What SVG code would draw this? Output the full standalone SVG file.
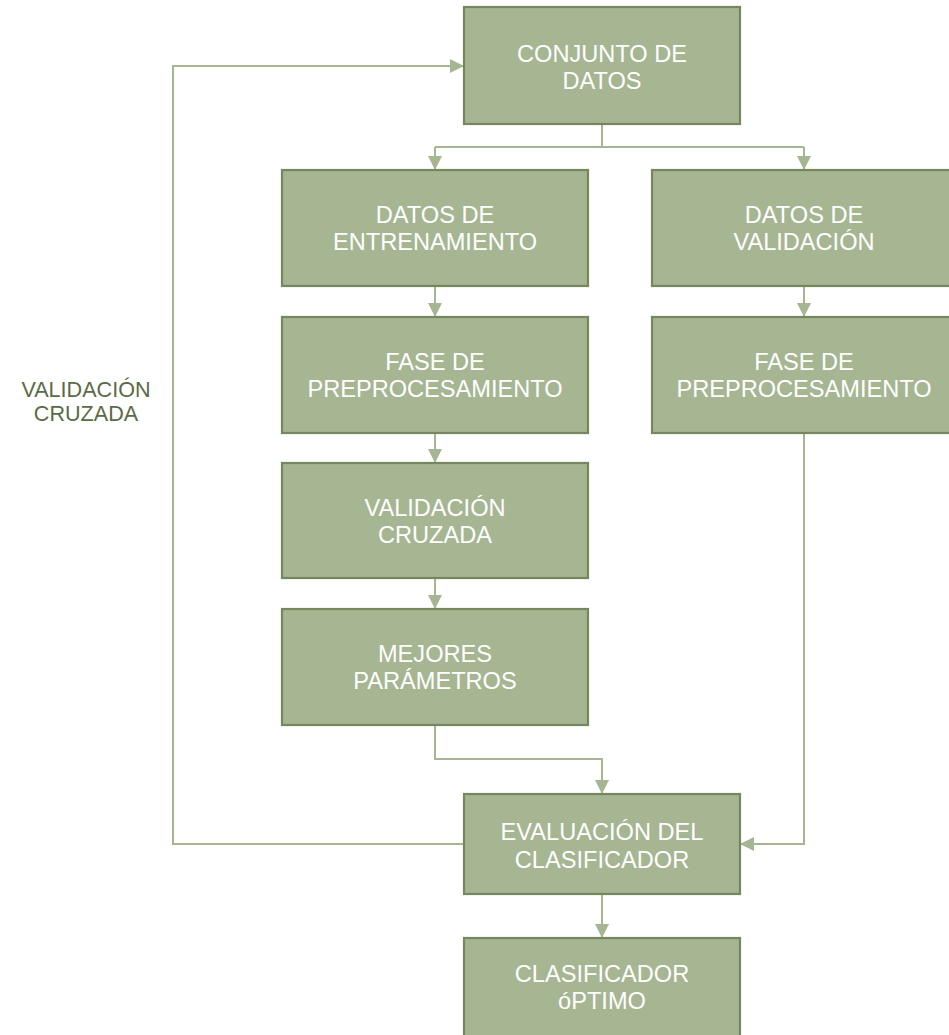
<svg xmlns="http://www.w3.org/2000/svg" width="949" height="1035" viewBox="0 0 949 1035">
<style>
.box{fill:#a6b592;stroke:#76865f;stroke-width:2.2}
.t{font-family:"Liberation Sans",Arial,sans-serif;font-size:23.6px;fill:#ffffff;text-anchor:middle}
.lbl{font-family:"Liberation Sans",Arial,sans-serif;font-size:21.6px;fill:#5a6b45;text-anchor:middle}
.c{fill:none;stroke:#a6b592;stroke-width:2}
</style>
<defs>
<marker id="ah" markerWidth="14" markerHeight="14" viewBox="0 0 14 14" refX="14" refY="7" orient="auto" markerUnits="userSpaceOnUse">
<path d="M0,0 L14,7 L0,14 Z" fill="#a6b592"/>
</marker>
</defs>
<rect width="949" height="1035" fill="#ffffff"/>
<g id="connectors">
<path class="c" d="M602,124 V147"/>
<path class="c" d="M435,147 H804"/>
<path class="c" d="M435,147 V170" marker-end="url(#ah)"/>
<path class="c" d="M804,147 V170" marker-end="url(#ah)"/>
<path class="c" d="M435,286 V317" marker-end="url(#ah)"/>
<path class="c" d="M804,286 V317" marker-end="url(#ah)"/>
<path class="c" d="M435,433 V463" marker-end="url(#ah)"/>
<path class="c" d="M435,578 V609" marker-end="url(#ah)"/>
<path class="c" d="M435,725 V759 H602 V794" marker-end="url(#ah)"/>
<path class="c" d="M804,433 V844 H740" marker-end="url(#ah)"/>
<path class="c" d="M464,844 H173 V66 H464" marker-end="url(#ah)"/>
<path class="c" d="M602,894 V938" marker-end="url(#ah)"/>
</g>
<g id="lbl-validacion">
<text class="lbl" x="86" y="397">VALIDACIÓN</text>
<text class="lbl" x="86" y="421">CRUZADA</text>
</g>
<g id="n-conjunto">
<rect class="box" x="464" y="7" width="276" height="117"/>
<text class="t" x="602" y="62">CONJUNTO DE</text>
<text class="t" x="602" y="88.5">DATOS</text>
</g>
<g id="n-entrenamiento">
<rect class="box" x="282" y="170" width="306" height="116"/>
<text class="t" x="435" y="223">DATOS DE</text>
<text class="t" x="435" y="250">ENTRENAMIENTO</text>
</g>
<g id="n-validacion">
<rect class="box" x="652" y="170" width="306" height="116"/>
<text class="t" x="804" y="223">DATOS DE</text>
<text class="t" x="804" y="250">VALIDACIÓN</text>
</g>
<g id="n-fase1">
<rect class="box" x="282" y="317" width="306" height="116"/>
<text class="t" x="435" y="370">FASE DE</text>
<text class="t" x="435" y="397">PREPROCESAMIENTO</text>
</g>
<g id="n-fase2">
<rect class="box" x="652" y="317" width="306" height="116"/>
<text class="t" x="804" y="370">FASE DE</text>
<text class="t" x="804" y="397">PREPROCESAMIENTO</text>
</g>
<g id="n-cruzada">
<rect class="box" x="282" y="463" width="306" height="115"/>
<text class="t" x="435" y="515.5">VALIDACIÓN</text>
<text class="t" x="435" y="542.5">CRUZADA</text>
</g>
<g id="n-mejores">
<rect class="box" x="282" y="609" width="306" height="116"/>
<text class="t" x="435" y="662">MEJORES</text>
<text class="t" x="435" y="689">PARÁMETROS</text>
</g>
<g id="n-evaluacion">
<rect class="box" x="464" y="794" width="276" height="100"/>
<text class="t" x="602" y="839.5">EVALUACIÓN DEL</text>
<text class="t" x="602" y="868">CLASIFICADOR</text>
</g>
<g id="n-optimo">
<rect class="box" x="464" y="938" width="276" height="110"/>
<text class="t" x="602" y="982">CLASIFICADOR</text>
<text class="t" x="602" y="1009">óPTIMO</text>
</g>
</svg>
